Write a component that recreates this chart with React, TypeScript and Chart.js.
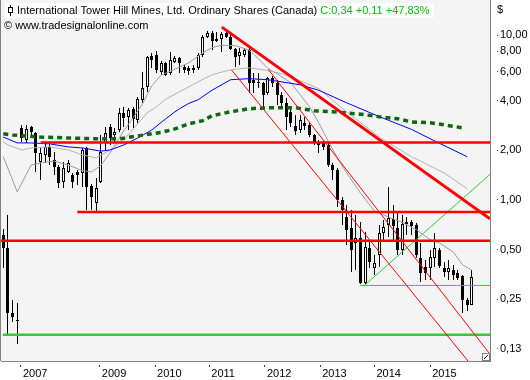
import React, { useEffect, useRef } from "react";
import { Chart, registerables } from "chart.js";

Chart.register(...registerables);

// ---- Monthly candles (index 0 = first visible month) ----
const opens = [
  0.613, 0.511, 0.206, 0.187, 2.74, 2.32, 2.78, 2.55, 1.7, 1.88,
  2.1, 1.75, 1.59, 1.28, 1.48, 1.42, 1.48, 1.46, 2.07, 1.21,
  0.959, 1.28, 2.22, 2.78, 2.48, 2.66, 3.38, 3.2, 3.58, 3.07,
  4.06, 4.86, 7.51, 7.62, 6.0, 6.8, 5.92, 6.9, 7.3, 6.44,
  6.34, 6.17, 6.34, 7.62, 9.79, 10.34, 9.53, 9.53, 10.34, 9.79,
  8.29, 7.51, 7.62, 8.17, 5.37, 5.22, 5.14, 4.47, 5.52, 5.14,
  4.35, 3.89, 3.43, 2.82, 2.66, 2.94, 2.86, 2.48, 2.22, 2.22,
  2.16, 1.63, 1.52, 1.0, 0.789, 0.675, 0.548, 0.587, 0.313, 0.511,
  0.386, 0.463, 0.63, 0.705, 0.766, 0.675, 0.497, 0.715, 0.735, 0.705,
  0.444, 0.392, 0.386, 0.444, 0.497, 0.386, 0.365, 0.375, 0.36, 0.345,
  0.247, 0.23,
];
const highs = [
  0.667, 0.811, 0.247, 0.236, 2.86, 2.86, 2.82, 2.59, 2.1, 2.22,
  2.22, 1.96, 1.63, 1.7, 1.75, 1.46, 1.52, 2.07, 2.1, 1.25,
  1.36, 2.48, 2.78, 2.9, 2.74, 3.63, 3.68, 3.63, 3.68, 4.23,
  6.0, 7.51, 7.83, 8.06, 7.0, 6.9, 7.95, 7.51, 7.41, 6.62,
  6.53, 6.62, 7.83, 10.06, 10.65, 10.65, 10.5, 10.5, 10.65, 10.06,
  8.4, 8.4, 8.4, 8.4, 5.92, 5.92, 5.22, 5.6, 5.68, 5.37,
  4.54, 4.17, 3.63, 3.29, 3.29, 3.2, 2.94, 2.52, 2.32, 2.28,
  2.25, 1.68, 1.56, 1.04, 0.933, 0.869, 0.811, 0.735, 0.639, 0.571,
  0.463, 0.705, 0.756, 1.2, 0.933, 0.834, 0.811, 0.789, 0.756, 0.725,
  0.548, 0.432, 0.497, 0.63, 0.511, 0.42, 0.432, 0.403, 0.375, 0.35,
  0.255, 0.375,
];
const lows = [
  0.386, 0.151, 0.182, 0.134, 2.26, 2.22, 2.38, 1.48, 1.32, 1.68,
  1.63, 1.42, 1.18, 1.18, 1.46, 1.18, 1.23, 1.2, 0.869, 0.869,
  0.857, 1.26, 2.01, 2.16, 2.22, 2.59, 2.78, 2.66, 2.74, 2.94,
  3.89, 4.54, 6.34, 5.92, 5.76, 5.68, 5.76, 6.8, 5.92, 5.92,
  5.76, 5.92, 6.17, 7.41, 9.65, 8.17, 9.14, 7.95, 9.65, 8.17,
  6.44, 6.62, 7.41, 4.47, 4.47, 4.8, 3.63, 4.35, 4.86, 3.78,
  3.68, 2.66, 2.78, 2.48, 2.55, 2.66, 2.41, 2.16, 1.93, 2.01,
  1.59, 1.32, 0.908, 0.705, 0.533, 0.365, 0.375, 0.308, 0.304, 0.386,
  0.35, 0.392, 0.571, 0.596, 0.571, 0.463, 0.463, 0.613, 0.613, 0.444,
  0.317, 0.326, 0.326, 0.392, 0.386, 0.34, 0.326, 0.326, 0.326, 0.206,
  0.212, 0.23,
];
const closes = [
  0.511, 0.206, 0.195, 0.184, 2.38, 2.7, 2.59, 1.93, 1.93, 2.1,
  1.83, 1.59, 1.26, 1.56, 1.68, 1.28, 1.42, 2.01, 1.2, 1.04,
  1.18, 1.96, 2.55, 2.38, 2.59, 3.38, 3.16, 3.53, 3.11, 4.12,
  4.8, 7.41, 7.1, 6.17, 6.8, 5.76, 7.1, 7.3, 6.8, 6.17,
  6.08, 6.34, 7.62, 9.79, 10.34, 9.27, 9.27, 10.2, 9.79, 8.29,
  7.41, 7.95, 8.17, 5.14, 5.14, 5.14, 4.35, 5.52, 5.14, 4.35,
  3.89, 3.2, 2.94, 2.63, 3.07, 2.82, 2.48, 2.22, 2.16, 2.1,
  1.63, 1.52, 1.0, 0.869, 0.657, 0.497, 0.587, 0.313, 0.518, 0.42,
  0.414, 0.63, 0.686, 0.777, 0.695, 0.497, 0.715, 0.735, 0.695, 0.463,
  0.36, 0.36, 0.45, 0.511, 0.397, 0.365, 0.386, 0.35, 0.335, 0.247,
  0.23, 0.34,
];

// ---- Axis ticks ----
const xTickPositions = [3.8, 20.8, 32.7, 44.4, 56.4, 68.3, 80.0, 92.0];
const xTickLabels = ["2007", "2009", "2010", "2011", "2012", "2013", "2014", "2015"];
const yTickValues = [0.125, 0.25, 0.5, 1, 2, 4, 6, 8, 10];
const yTickLabels = ["0,13", "0,25", "0,50", "1,00", "2,00", "4,00", "6,00", "8,00", "10,00"];

// ---- Moving averages ----
const fastMaX = [0, 3, 6, 9, 11, 14, 17, 19, 21, 23, 26, 28, 30, 32, 34, 37, 40, 43, 45, 47, 50, 53, 55, 57, 59, 62, 64, 66, 68, 70, 72, 74, 77, 80, 83, 86, 89, 92, 94, 97, 99, 101];
const fastMaY = [1.83, 1.12, 1.63, 1.7, 1.72, 1.63, 1.51, 1.48, 1.62, 1.93, 2.64, 3.16, 3.83, 4.93, 5.72, 6.22, 6.8, 7.83, 8.4, 8.7, 8.64, 8.12, 7.2, 6.29, 5.84, 5.14, 4.35, 3.68, 2.94, 2.28, 1.8, 1.46, 1.1, 0.857, 0.789, 0.73, 0.66, 0.574, 0.548, 0.483, 0.403, 0.375];
const slowMaX = [0, 1, 4, 6, 10, 14, 17, 20, 23, 26, 28, 31, 33, 35, 38, 42, 45, 49, 53, 56, 60, 64, 68, 74, 81, 88, 95, 100];
const slowMaY = [2.25, 2.16, 2.01, 2.07, 2.1, 2.01, 1.88, 1.8, 2.01, 2.32, 2.7, 3.38, 3.68, 4.09, 4.54, 5.22, 5.76, 6.17, 6.34, 6.17, 5.84, 5.3, 4.74, 3.43, 2.41, 1.83, 1.46, 1.17];
const blueMaX = [0, 3, 6, 10, 14, 17, 21, 23, 26, 29, 32, 35, 37, 38, 40, 42, 45, 49, 53, 57, 64, 68, 74, 81, 88, 93, 100];
const blueMaY = [2.41, 2.22, 2.22, 2.19, 2.1, 2.07, 1.98, 2.01, 2.16, 2.38, 2.66, 3.11, 3.43, 3.58, 3.86, 4.06, 4.64, 5.37, 5.45, 5.37, 5.0, 4.63, 3.89, 3.21, 2.68, 2.28, 1.83];
const greenMaX = [0, 2, 8, 14, 21, 25, 29, 34, 37, 40, 43, 45, 49, 53, 57, 63, 67, 71, 74, 78, 81, 85, 88, 92, 95, 99];
const greenMaY = [2.52, 2.48, 2.41, 2.38, 2.35, 2.35, 2.45, 2.57, 2.7, 2.9, 3.03, 3.25, 3.43, 3.58, 3.63, 3.63, 3.48, 3.43, 3.38, 3.29, 3.2, 3.11, 2.98, 2.94, 2.86, 2.74];

// ---- Drawn levels and trend lines (data units: month index, price) ----
const X_MIN = -0.5;
const X_MAX = 104.9;
const redLevelPrices = [2.23, 0.846, 0.566];
const redLevelStarts = [8.06, 15.95, -0.5];
const greenLevelPrice = 0.152;
const greenLevelStart = -0.1;
const supportLevelPrice = 0.303;
const supportLevelStart = 76.9;
const redTrendThick = [[47.1, 11.2], [104.9, 0.768]];
const redChannelA = [[49.2, 6.15], [101.9, 0.0917]];
const redChannelB = [[57.1, 6.21], [104.9, 0.116]];
const greenTrend = [[77.95, 0.305], [104.9, 1.43]];

const titleMain = "International Tower Hill Mines, Ltd. Ordinary Shares (Canada)";
const titleQuote = "C:0,34 +0,11 +47,83%";
const watermark = "\u00A9 www.tradesignalonline.com";
const FONT = '"Liberation Sans", Arial, sans-serif';

const pts = (xs: number[], ys: number[]) => xs.map((x, i) => ({ x, y: ys[i] }));
const seg = (s: number[][]) => s.map((p) => ({ x: p[0], y: p[1] }));

const lineDs = (data: any[], color: string, width: number, dash: number[] = []) => ({
  type: "line",
  data,
  borderColor: color,
  borderWidth: width,
  borderDash: dash,
  pointRadius: 0,
  pointHoverRadius: 0,
  fill: false,
  tension: 0,
  borderCapStyle: "butt",
});

const bgPlugin = {
  id: "plotBg",
  beforeDraw(chart: any) {
    const { ctx, chartArea: a } = chart;
    ctx.save();
    ctx.fillStyle = "#f4f4f4";
    ctx.fillRect(a.left, a.top, a.right - a.left, a.bottom - a.top);
    ctx.restore();
  },
};

const candlePlugin = {
  id: "candles",
  beforeDatasetsDraw(chart: any) {
    const { ctx, chartArea: a, scales } = chart;
    const xs = scales.x;
    const ys = scales.y;
    ctx.save();
    ctx.beginPath();
    ctx.rect(a.left, a.top, a.right - a.left, a.bottom - a.top);
    ctx.clip();
    for (let i = 0; i < opens.length; i++) {
      const x = Math.round(xs.getPixelForValue(i) - 0.5);
      const yh = Math.round(ys.getPixelForValue(highs[i]));
      const yl = Math.round(ys.getPixelForValue(lows[i]));
      const yo = ys.getPixelForValue(opens[i]);
      const yc = ys.getPixelForValue(closes[i]);
      const top = Math.round(Math.min(yo, yc));
      const bot = Math.round(Math.max(yo, yc));
      const h = Math.max(1, bot - top);
      ctx.fillStyle = "#000";
      ctx.fillRect(x, yh, 1, Math.max(1, yl - yh));
      ctx.fillRect(x - 1, top, 3, h);
      if (closes[i] > opens[i] && h > 2) {
        ctx.fillStyle = "#fff";
        ctx.fillRect(x, top + 1, 1, h - 2);
      }
    }
    ctx.restore();
  },
};

const framePlugin = {
  id: "frameAndTitle",
  afterDraw(chart: any) {
    const { ctx, chartArea: a } = chart;
    ctx.save();
    // left frame line
    ctx.fillStyle = "#808080";
    ctx.fillRect(a.left - 1, a.top, 1, a.bottom - a.top);
    // corner resize glyph
    const cx = a.right - 8;
    const cy = a.bottom - 8;
    ctx.fillStyle = "#ffffff";
    ctx.fillRect(cx, cy, 7, 7);
    ctx.strokeStyle = "#808080";
    ctx.lineWidth = 1;
    ctx.strokeRect(cx + 0.5, cy + 0.5, 7, 7);
    ctx.strokeStyle = "#000";
    ctx.beginPath();
    ctx.moveTo(cx + 2, cy + 6);
    ctx.lineTo(cx + 6, cy + 2);
    ctx.stroke();

    // title
    ctx.font = "11px " + FONT;
    ctx.textBaseline = "middle";
    const wMain = ctx.measureText(titleMain + " ").width;
    const wQuote = ctx.measureText(titleQuote).width;
    const tx = a.left + 16;
    ctx.fillStyle = "#ffffff";
    ctx.fillRect(a.left + 4, 3, 12 + wMain + wQuote + 4, 15);
    // candle icon
    ctx.fillStyle = "#000";
    ctx.fillRect(a.left + 9, 5, 1, 11);
    ctx.fillRect(a.left + 7, 7, 5, 6);
    ctx.fillStyle = "#fff";
    ctx.fillRect(a.left + 8, 8, 3, 4);
    ctx.fillStyle = "#000";
    ctx.fillText(titleMain, tx, 11);
    ctx.fillStyle = "#00c000";
    ctx.fillText(titleQuote, tx + wMain, 11);
    ctx.fillStyle = "#000";
    ctx.fillText(watermark, a.left + 3, 26);
    // currency label above the price axis
    ctx.fillText("$", a.right + 7, 10);
    ctx.restore();
  },
};

export default function App() {
  const ref = useRef<HTMLCanvasElement | null>(null);
  useEffect(() => {
    const canvas = ref.current;
    if (!canvas) return;
    const datasets: any[] = [
      lineDs(seg(redTrendThick), "#ff0000", 3),
      ...redLevelPrices.map((p, i) => lineDs([{ x: redLevelStarts[i], y: p }, { x: X_MAX, y: p }], "#ff0000", 2.5)),
      lineDs(seg(redChannelA), "#ff0000", 1),
      lineDs(seg(redChannelB), "#ff0000", 1),
      lineDs([{ x: greenLevelStart, y: greenLevelPrice }, { x: X_MAX, y: greenLevelPrice }], "#33cc33", 2.5),
      lineDs([{ x: supportLevelStart, y: supportLevelPrice }, { x: X_MAX, y: supportLevelPrice }], "#33cc33", 1),
      lineDs(seg(greenTrend), "#33cc33", 1),
      lineDs(pts(greenMaX, greenMaY), "#116611", 3.5, [5, 4]),
      lineDs(pts(blueMaX, blueMaY), "#0000ff", 1),
      lineDs(pts(slowMaX, slowMaY), "#b4b4b4", 1),
      lineDs(pts(fastMaX, fastMaY), "#9c9c9c", 1),
    ];
    const chart = new Chart(canvas, {
      type: "line",
      data: { datasets },
      options: {
        animation: false,
        responsive: false,
        devicePixelRatio: 1,
        events: [],
        layout: { padding: { left: 1, right: 0, top: 0, bottom: 0 } },
        plugins: { legend: { display: false }, tooltip: { enabled: false }, title: { display: false } },
        scales: {
          x: {
            type: "linear",
            min: X_MIN,
            max: X_MAX,
            afterBuildTicks: (axis: any) => {
              axis.ticks = xTickPositions.map((v) => ({ value: v }));
            },
            afterFit: (scale: any) => {
              scale.height = 19;
              scale.paddingLeft = 0;
              scale.paddingRight = 0;
            },
            ticks: {
              autoSkip: false,
              maxRotation: 0,
              align: "start",
              labelOffset: 2,
              padding: 0,
              color: "#000",
              font: { family: FONT, size: 11 },
              callback: (_v: any, i: number) => xTickLabels[i],
            },
            grid: {
              drawOnChartArea: false,
              drawTicks: true,
              tickLength: 6,
              tickColor: "#404040",
              tickWidth: 1,
              tickBorderDash: [0, 3, 4, 50],
            },
            border: { display: true, color: "#808080", width: 1 },
          },
          y: {
            type: "logarithmic",
            position: "right",
            min: 0.1054,
            max: 16.36,
            afterBuildTicks: (axis: any) => {
              axis.ticks = yTickValues.map((v) => ({ value: v }));
            },
            afterFit: (scale: any) => {
              scale.width = 40;
              scale.paddingTop = 0;
              scale.paddingBottom = 0;
            },
            ticks: {
              autoSkip: false,
              padding: 2,
              color: "#000",
              font: { family: FONT, size: 11 },
              callback: (v: any) => {
                let best = 0;
                for (let i = 1; i < yTickValues.length; i++) {
                  if (Math.abs(Math.log(yTickValues[i] / v)) < Math.abs(Math.log(yTickValues[best] / v))) best = i;
                }
                return yTickLabels[best];
              },
            },
            grid: {
              drawOnChartArea: false,
              drawTicks: true,
              tickLength: 8,
              tickColor: "#404040",
              tickWidth: 1,
              tickBorderDash: [0, 6, 2, 50],
            },
            border: { display: true, color: "#808080", width: 1 },
          },
        },
      },
      plugins: [bgPlugin, candlePlugin, framePlugin],
    } as any);
    return () => chart.destroy();
  }, []);
  return (
    <div style={{ position: "fixed", left: 0, top: 0, width: 530, height: 380, background: "#fff" }}>
      <canvas ref={ref} width={530} height={380} style={{ display: "block", width: 530, height: 380 }} />
    </div>
  );
}
